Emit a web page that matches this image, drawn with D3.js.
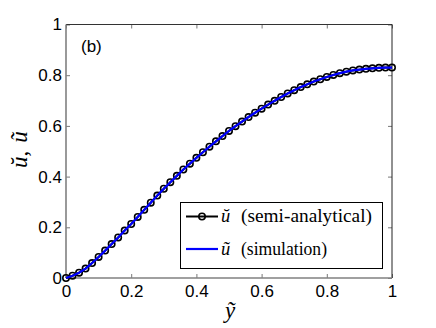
<!DOCTYPE html>
<html>
<head>
<meta charset="utf-8">
<script src="https://cdn.jsdelivr.net/npm/d3@7"></script>
<style>
  body { margin: 0; background: #fff; }
  svg { display: block; }
  .tick text { font-family: "Liberation Sans", Arial, sans-serif; font-size: 17px; fill: #000; }
  .serif { font-family: "Liberation Serif", "DejaVu Serif", serif; }
</style>
</head>
<body>
<div class="chart"></div>
<script>
// y-tilde positions of the 51 markers
var yPos = [0, 0.02, 0.04, 0.06, 0.08, 0.1, 0.12, 0.14, 0.16, 0.18,
  0.2, 0.22, 0.24, 0.26, 0.28, 0.3, 0.32, 0.34, 0.36, 0.38,
  0.4, 0.42, 0.44, 0.46, 0.48, 0.5, 0.52, 0.54, 0.56, 0.58,
  0.6, 0.62, 0.64, 0.66, 0.68, 0.7, 0.72, 0.74, 0.76, 0.78,
  0.8, 0.82, 0.84, 0.86, 0.88, 0.9, 0.92, 0.94, 0.96, 0.98, 1];

var semiAnalytical = [0, 0.009, 0.021, 0.037, 0.059, 0.083, 0.108, 0.134, 0.160, 0.187,
  0.213, 0.241, 0.269, 0.297, 0.325, 0.352, 0.378, 0.403, 0.428, 0.451,
  0.474, 0.496, 0.518, 0.539, 0.560, 0.580, 0.599, 0.617, 0.635, 0.652,
  0.668, 0.684, 0.699, 0.714, 0.728, 0.741, 0.753, 0.764, 0.775, 0.784,
  0.793, 0.801, 0.808, 0.814, 0.819, 0.822, 0.825, 0.827, 0.829, 0.830, 0.830];

var simulation = [0, 0.009, 0.021, 0.037, 0.059, 0.083, 0.108, 0.134, 0.160, 0.187,
  0.213, 0.241, 0.269, 0.297, 0.325, 0.352, 0.378, 0.403, 0.428, 0.451,
  0.474, 0.496, 0.518, 0.539, 0.560, 0.580, 0.599, 0.617, 0.635, 0.652,
  0.668, 0.684, 0.699, 0.714, 0.728, 0.741, 0.753, 0.764, 0.775, 0.784,
  0.793, 0.801, 0.808, 0.814, 0.819, 0.822, 0.825, 0.827, 0.829, 0.830, 0.830];

var xTicks = [0, 0.2, 0.4, 0.6, 0.8, 1];
var xTickLabels = ["0", "0.2", "0.4", "0.6", "0.8", "1"];
var yTicks = [0, 0.2, 0.4, 0.6, 0.8, 1];
var yTickLabels = ["0", "0.2", "0.4", "0.6", "0.8", "1"];

var legendLabels = [["\u016D", "(semi-analytical)"], ["\u0169", "(simulation)"]];
var legendTextLen = [131, 86];

var W = 436, H = 328;
var m = {left: 66, top: 24.5, right: 392, bottom: 278};

var svg = d3.select(".chart").append("svg")
  .attr("width", W)
  .attr("height", H);

var x = d3.scaleLinear().domain([0, 1]).range([m.left, m.right]);
var y = d3.scaleLinear().domain([0, 1]).range([m.bottom, m.top]);

// axes with inward ticks, MATLAB style
function styleAxis(g) {
  g.select(".domain").remove();
  g.selectAll(".tick line").attr("stroke", "#555").attr("stroke-width", 0.8);
}

svg.append("g")
  .attr("transform", "translate(0," + m.bottom + ")")
  .call(d3.axisBottom(x).tickValues(xTicks)
    .tickFormat(function(d, i) { return xTickLabels[i]; })
    .tickSizeInner(-4).tickSizeOuter(0).tickPadding(7))
  .call(styleAxis);

svg.append("g")
  .attr("transform", "translate(" + m.left + ",0)")
  .call(d3.axisLeft(y).tickValues(yTicks)
    .tickFormat(function(d, i) { return yTickLabels[i]; })
    .tickSizeInner(-4).tickSizeOuter(0).tickPadding(4))
  .call(styleAxis);

svg.append("g")
  .attr("transform", "translate(0," + m.top + ")")
  .call(d3.axisTop(x).tickValues(xTicks).tickFormat("").tickSizeInner(-4).tickSizeOuter(0))
  .call(styleAxis);

svg.append("g")
  .attr("transform", "translate(" + m.right + ",0)")
  .call(d3.axisRight(y).tickValues(yTicks).tickFormat("").tickSizeInner(-4).tickSizeOuter(0))
  .call(styleAxis);

// box
svg.append("line").attr("x1", m.left).attr("x2", m.right).attr("y1", m.top).attr("y2", m.top)
  .attr("stroke", "#333").attr("stroke-width", 1);
svg.append("line").attr("x1", m.right).attr("x2", m.right).attr("y1", m.top).attr("y2", m.bottom)
  .attr("stroke", "#222").attr("stroke-width", 1);
svg.append("line").attr("x1", m.left).attr("x2", m.left).attr("y1", m.top).attr("y2", m.bottom)
  .attr("stroke", "#808080").attr("stroke-width", 1.6);
svg.append("line").attr("x1", m.left).attr("x2", m.right).attr("y1", m.bottom).attr("y2", m.bottom)
  .attr("stroke", "#808080").attr("stroke-width", 1.6);

var semiData = yPos.map(function(v, i) { return {x: v, y: semiAnalytical[i]}; });
var simData = yPos.map(function(v, i) { return {x: v, y: simulation[i]}; });

var line = d3.line()
  .x(function(d) { return x(d.x); })
  .y(function(d) { return y(d.y); });

svg.append("path")
  .attr("d", line(semiData))
  .attr("fill", "none")
  .attr("stroke", "#000")
  .attr("stroke-width", 2);

svg.selectAll(".mk")
  .data(semiData)
  .enter().append("circle")
  .attr("class", "mk")
  .attr("cx", function(d) { return x(d.x); })
  .attr("cy", function(d) { return y(d.y); })
  .attr("r", 3.2)
  .attr("fill", "none")
  .attr("stroke", "#000")
  .attr("stroke-width", 1.6);

svg.append("path")
  .attr("d", line(simData))
  .attr("fill", "none")
  .attr("stroke", "#0000ff")
  .attr("stroke-width", 2.2);

// panel tag
svg.append("text")
  .attr("x", 81).attr("y", 51.5)
  .style("font-family", "'Liberation Sans', Arial, sans-serif")
  .style("font-size", "17px")
  .text("(b)");

// axis labels
svg.append("text")
  .attr("class", "serif")
  .attr("x", 230).attr("y", 318)
  .attr("text-anchor", "middle")
  .style("font-style", "italic")
  .style("font-size", "23px")
  .text("\u1EF9");

var yl = svg.append("text")
  .attr("class", "serif")
  .attr("transform", "translate(27,168) rotate(-90)")
  .style("font-size", "23px");
yl.append("tspan").style("font-style", "italic").text("\u016D");
yl.append("tspan").text(",");
yl.append("tspan").attr("dx", 8).style("font-style", "italic").text("\u0169");

// legend
var lg = svg.append("g");
lg.append("rect")
  .attr("x", 180.5).attr("y", 202.5)
  .attr("width", 202).attr("height", 66)
  .attr("fill", "#fff")
  .attr("stroke", "#000")
  .attr("stroke-width", 1);

var rowsY = [216.5, 249];
lg.append("line").attr("x1", 186).attr("x2", 218).attr("y1", rowsY[0]).attr("y2", rowsY[0])
  .attr("stroke", "#000").attr("stroke-width", 2);
lg.append("circle").attr("cx", 202).attr("cy", rowsY[0]).attr("r", 3.2)
  .attr("fill", "none").attr("stroke", "#000").attr("stroke-width", 1.6);
lg.append("line").attr("x1", 186).attr("x2", 218).attr("y1", rowsY[1]).attr("y2", rowsY[1])
  .attr("stroke", "#0000ff").attr("stroke-width", 2.2);

legendLabels.forEach(function(lab, i) {
  lg.append("text")
    .attr("class", "serif")
    .attr("x", 221).attr("y", rowsY[i] + 5.5)
    .style("font-style", "italic")
    .style("font-size", "18.5px")
    .text(lab[0]);
  lg.append("text")
    .attr("class", "serif")
    .attr("x", 241).attr("y", rowsY[i] + 5.5)
    .attr("textLength", legendTextLen[i])
    .attr("lengthAdjust", "spacingAndGlyphs")
    .style("font-size", "18.5px")
    .text(lab[1]);
});
</script>
</body>
</html>
